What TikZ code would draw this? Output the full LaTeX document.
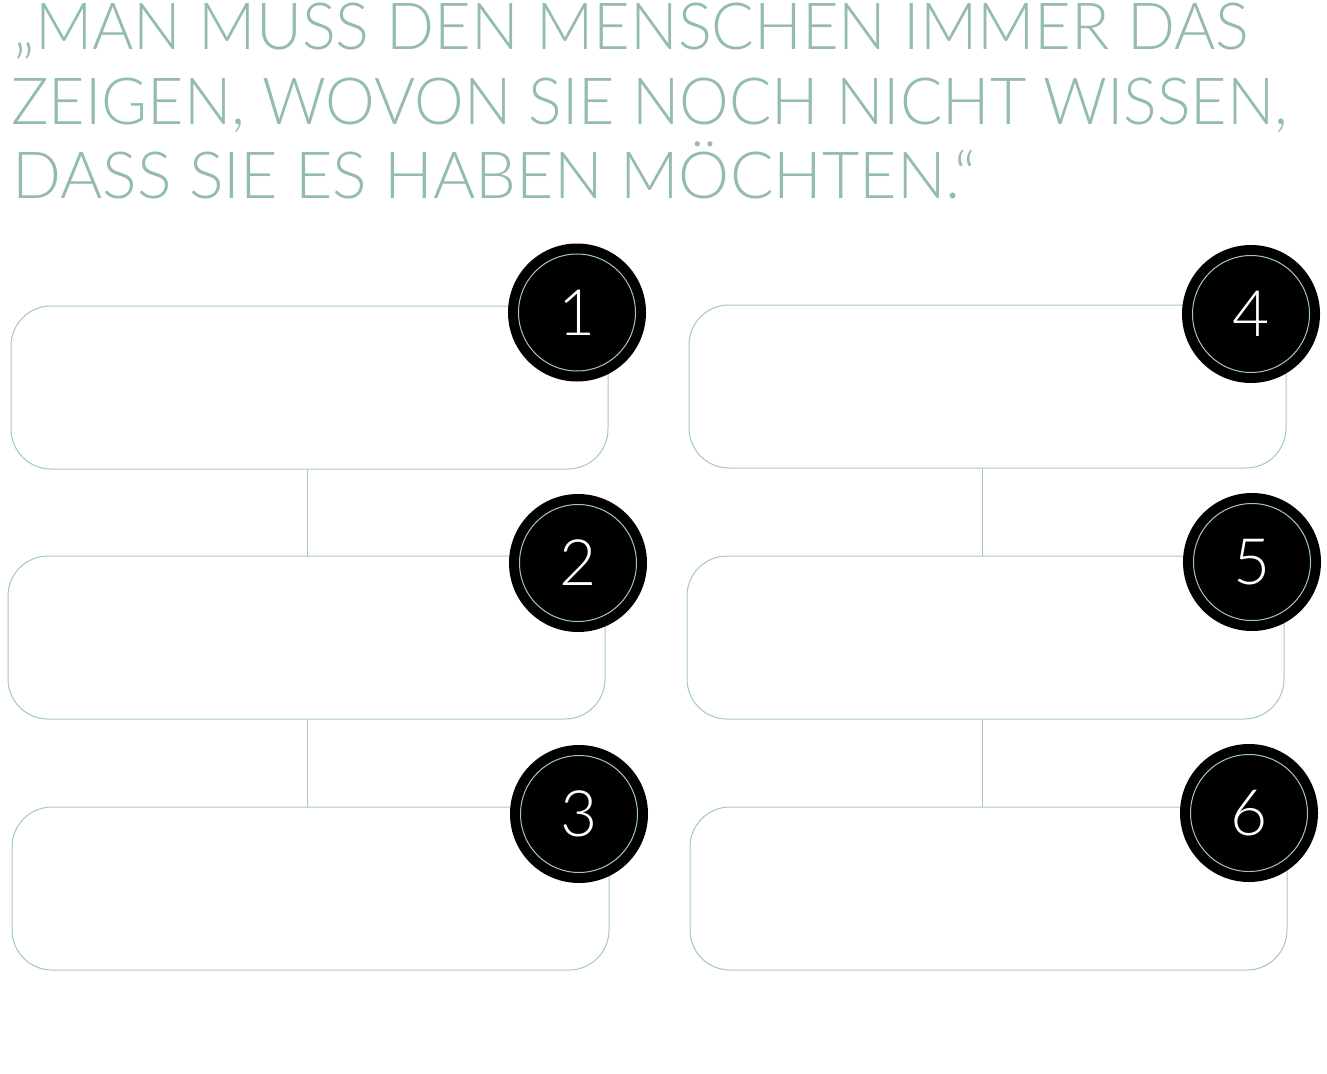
\documentclass[tikz,border=0pt]{standalone}
\usepackage{fontspec}
\newfontfamily\thinfont{Lato Light}
\definecolor{quote}{HTML}{94BCAE}
\definecolor{frame}{HTML}{A5C8BD}
\begin{document}
\begin{tikzpicture}[x=1pt,y=-1pt,
  quoteline/.style={anchor=base west,inner sep=0pt,text=quote,font=\thinfont\fontsize{65}{75}\selectfont},
  box/.style={draw=frame,line width=1pt,rounded corners=40pt,minimum width=597pt,minimum height=163pt,inner sep=0pt},
  numc/.style={circle,fill=black,minimum size=138pt,inner sep=0pt,text=white,font=\thinfont\fontsize{64}{64}\selectfont},
  ring/.style={draw=frame,line width=1pt},
  link/.style={draw=frame,line width=1pt}]
\useasboundingbox (0,0) rectangle (1327,1073);
% quote
\node[quoteline] (q1) at (13,49) {\resizebox{1236pt}{\height}{„MAN MUSS DEN MENSCHEN IMMER DAS}};
\node[quoteline] (q2) at (11,124) {\resizebox{1277pt}{\height}{ZEIGEN, WOVON SIE NOCH NICHT WISSEN,}};
\node[quoteline] (q3) at (12,198) {\resizebox{964pt}{\height}{DASS SIE ES HABEN MÖCHTEN.“}};
% boxes
\node[box] (b1) at (309.5,387.5) {};
\node[box] (b2) at (306.5,637.5) {};
\node[box] (b3) at (310.5,888.5) {};
\node[box] (b4) at (987.5,386.5) {};
\node[box] (b5) at (985.5,637.5) {};
\node[box] (b6) at (988.5,888.5) {};
% connectors
\draw[link] ([xshift=0.5pt]b2.north |- b1.south) -- ([xshift=0.5pt]b2.north);
\draw[link] ([xshift=0.5pt]b2.south) -- ([xshift=0.5pt]b2.south |- b3.north);
\draw[link] ([xshift=-3.5pt]b5.north |- b4.south) -- ([xshift=-3.5pt]b5.north);
\draw[link] ([xshift=-3.5pt]b5.south) -- ([xshift=-3.5pt]b5.south |- b6.north);
% number circles
\node[numc] (c1) at (577,312.5) {1};
\node[numc] (c2) at (578,563) {2};
\node[numc] (c3) at (579,814) {3};
\node[numc] (c4) at (1251,314) {4};
\node[numc] (c5) at (1252,562) {5};
\node[numc] (c6) at (1249,813) {6};
\foreach \c in {c1,c2,c3,c4,c5,c6}{\draw[ring] (\c.center) circle[radius=58.5pt];}
\end{tikzpicture}
\end{document}
